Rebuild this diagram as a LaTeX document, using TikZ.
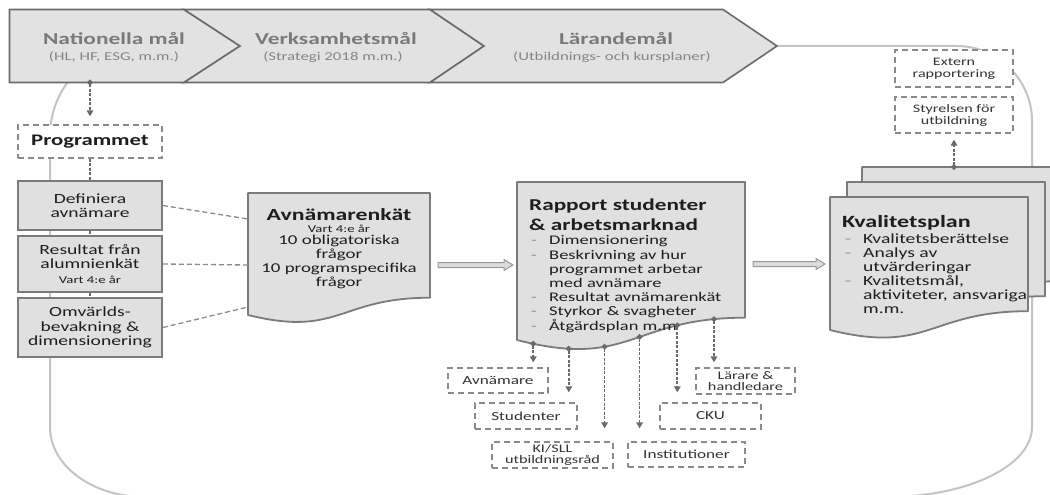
\documentclass[tikz,border=0pt]{standalone}
\usepackage{fontspec}
\setmainfont{Carlito}[FakeStretch=1.4]
\usetikzlibrary{arrows.meta,calc}
\definecolor{boxfill}{HTML}{E0E0E0}
\definecolor{boxdraw}{HTML}{7B7B7B}
\definecolor{chevfill}{HTML}{E2E2E2}
\definecolor{chevdraw}{HTML}{6B6B6B}
\definecolor{loopgray}{HTML}{C4C4C4}
\definecolor{hdrgray}{HTML}{7A7A7A}
\definecolor{subgray}{HTML}{858585}
\definecolor{txt}{HTML}{1E1E1E}
\definecolor{txttwo}{HTML}{333333}
\definecolor{dashgray}{HTML}{8A8A8A}
\definecolor{dotgray}{HTML}{6A6A6A}
\definecolor{arrdraw}{HTML}{9A9A9A}
\definecolor{arrfill}{HTML}{DCDCDC}
\definecolor{bulgray}{HTML}{8C8C8C}
\newcommand{\fs}[2]{\fontsize{#1}{#2}\selectfont}
\newcommand{\bl}{\makebox[18pt][l]{\textcolor{bulgray}{-}}}
\newcommand{\bi}{\hspace*{18pt}}
\tikzset{
  loopline/.style={draw=loopgray, line width=2pt},
  chev/.style={fill=chevfill, draw=chevdraw, line width=1.6pt, line join=miter},
  hdr/.style={font=\bfseries\fs{16.7}{20}, text=hdrgray, inner sep=0pt},
  hsub/.style={font=\fs{12}{14}, text=subgray, inner sep=0pt},
  lbox/.style={draw=boxdraw, fill=boxfill, line width=1.8pt, minimum width=144pt,
    align=center, inner sep=0pt, font=\fs{14}{14.2}, text=txt},
  doc/.style={draw=boxdraw, fill=boxfill, line width=1.8pt, line join=round},
  dbox/.style={draw=dashgray, dash pattern=on 6pt off 4pt, line width=1.3pt, fill=white,
    align=center, inner sep=0pt, font=\fs{12.3}{12.4}, text=txttwo},
  dboxtwo/.style={dbox, font=\fs{11.6}{11.4}},
  dotarrow/.style={draw=dotgray, line width=1.7pt, dash pattern=on 3pt off 1.5pt,
    {Circle[length=5.5pt,width=5.5pt]}-{Triangle[length=6pt,width=6.5pt]}, shorten <=-2.75pt},
  dotline/.style={draw=dotgray, line width=1.7pt, dash pattern=on 3pt off 1.5pt},
  dashline/.style={draw=dashgray, line width=1.3pt, dash pattern=on 5pt off 3pt},
  hollow/.style={draw=arrdraw, fill=arrfill, line width=1pt, line join=miter},
  txtn/.style={inner sep=0pt, text=txt}
}
\begin{document}
\begin{tikzpicture}[x=1pt,y=-1pt]
\useasboundingbox (0,0) rectangle (1050,495);
\fill[white] (0,0) rectangle (1050,495);
\clip (0,0) rectangle (1050,495);

% big loop
\draw[loopline] (777,46) -- (957,46) .. controls (998,46) and (1032,80) .. (1032,121)
  -- (1032,427) .. controls (1032,466) and (967,497) .. (887,497)
  -- (145,497) .. controls (93,497) and (50,466) .. (50,427)
  -- (50,136) .. controls (50,86) and (90,46) .. (140,46) -- cycle;

% chevron band
\draw[chev] (9.5,9.5) -- (184,9.5) -- (240,46) -- (184,82.5) -- (9.5,82.5) -- cycle;
\draw[chev] (184,9.5) -- (430,9.5) -- (484,46) -- (430,82.5) -- (184,82.5) -- (240,46) -- cycle;
\draw[chev] (430,9.5) -- (723,9.5) -- (777,46) -- (723,82.5) -- (430,82.5) -- (484,46) -- cycle;
\node[hdr] (nmT) at (114,39) {Nationella mål};
\node[hsub] (nmS) at (114,57) {(HL, HF, ESG, m.m.)};
\node[hdr] (vmT) at (336,39) {Verksamhetsmål};
\node[hsub] (vmS) at (333,57) {(Strategi 2018 m.m.)};
\node[hdr] (lmT) at (616,39) {Lärandemål};
\node[hsub] (lmS) at (612,57) {(Utbildnings- och kursplaner)};
\coordinate (nmB) at (90,82.5);

% Programmet and left column
\node[dbox, font=\bfseries\fs{16.2}{18}, text=txt, minimum width=144pt, minimum height=33pt] (prog) at (90,141.5) {Programmet};
\node[lbox, minimum height=49pt] (def) at (90,205.5) {Definiera\\avnämare};
\node[lbox, minimum height=56pt] (res) at (90,264) {Resultat från\\alumnienkät\\{\fs{10.5}{12}Vart 4:e år}};
\node[lbox, minimum height=59pt] (omv) at (90,327.5) {Omvärlds-\\bevakning \&\\dimensionering};
\draw[dotarrow, shorten >=8pt] (nmB) -- (prog.north);
\draw[dotline] (prog.south) -- (def.north);
\draw[dotline] (def.south) -- (res.north);
\draw[dotline] (res.south) -- (omv.north);

% Avnämarenkät document
\draw[doc] (248,193) -- (430,193) -- (430,297.7) .. controls (339,297.7) and (339,337.6) .. (248,315) -- cycle;
\coordinate (avL1) at (248,219);
\coordinate (avL2) at (248,265);
\coordinate (avL3) at (248,307);
\coordinate (avE) at (430,265);
\node[txtn, font=\bfseries\fs{17}{20}] (avT) at (339,215) {Avnämarenkät};
\node[txtn, font=\fs{10.5}{12}] (avV) at (339,228.5) {Vart 4:e år};
\node[txtn, font=\fs{13.5}{13.7}, align=center] (avB) at (339,262) {10 obligatoriska\\frågor\\10 programspecifika\\frågor};
\draw[dashline] (def.east) -- (avL1);
\draw[dashline] (res.east) -- (avL2);
\draw[dashline] (omv.east) -- (avL3);

% Rapport document
\draw[doc] (517,182) -- (745,182) -- (745,317.7) .. controls (631,317.7) and (631,369.3) .. (517,340)
  coordinate[pos=0.1] (r6) coordinate[pos=0.25] (r5) coordinate[pos=0.45] (r4)
  coordinate[pos=0.65] (r3) coordinate[pos=0.82] (r2) coordinate[pos=0.95] (r1) -- cycle;
\coordinate (rapW) at (517,265);
\coordinate (rapE) at (745,264);
\node[txtn, font=\bfseries\fs{16.6}{20}, align=left, anchor=west] (rapT) at (529,215) {Rapport studenter\\\& arbetsmarknad};
\node[txtn, font=\fs{13.2}{14.2}, align=left, anchor=west] (rapB) at (531,284) {\bl Dimensionering\\\bl Beskrivning av hur\\\bi programmet arbetar\\\bi med avnämare\\\bl Resultat avnämarenkät\\\bl Styrkor \& svagheter\\\bl Åtgärdsplan m.m};

% hollow arrows
\draw[hollow] ($(avE)+(8,-2.5)$) -- ($(rapW)+(-13,-2.5)$) -- ($(rapW)+(-13,-5.5)$) -- ($(rapW)+(-4,0)$)
  -- ($(rapW)+(-13,5.5)$) -- ($(rapW)+(-13,2.5)$) -- ($(avE)+(8,2.5)$) -- cycle;

% Kvalitetsplan stack
\draw[doc] (862,167) -- (1060,167) -- (1060,281.2) .. controls (961,281.2) and (961,324.6) .. (862,300) -- cycle;
\draw[doc] (847,182) -- (1045,182) -- (1045,296.2) .. controls (946,296.2) and (946,339.6) .. (847,315) -- cycle;
\draw[doc] (830,197) -- (1028,197) -- (1028,311.2) .. controls (929,311.2) and (929,354.6) .. (830,330) -- cycle;
\coordinate (kvW) at (830,264);
\coordinate (kbT) at (954,167);
\node[txtn, font=\bfseries\fs{17.2}{20}, anchor=west] (kvT) at (842,223) {Kvalitetsplan};
\node[txtn, font=\fs{14}{14}, align=left, anchor=west] (kvB) at (845,274) {\bl Kvalitetsberättelse\\\bl Analys av\\\bi utvärderingar\\\bl Kvalitetsmål,\\\bi aktiviteter, ansvariga\\\bi m.m.};

\draw[hollow] ($(rapE)+(8,-2.5)$) -- ($(kvW)+(-14,-2.5)$) -- ($(kvW)+(-14,-5.5)$) -- ($(kvW)+(-5,0)$)
  -- ($(kvW)+(-14,5.5)$) -- ($(kvW)+(-14,2.5)$) -- ($(rapE)+(8,2.5)$) -- cycle;

% top right boxes
\node[dbox, font=\fs{11.5}{12}, minimum width=118pt, minimum height=37pt] (ext) at (954,68.5) {Extern\\rapportering};
\node[dbox, font=\fs{11.5}{12}, minimum width=118pt, minimum height=36pt] (styr) at (954,115) {Styrelsen för\\utbildning};
\draw[dotarrow, shorten >=6pt] (kbT) -- (styr.south);

% bottom boxes
\node[dbox, minimum width=100pt, minimum height=25pt] (avn) at (498,380.5) {Avnämare};
\node[dbox, minimum width=102pt, minimum height=26pt] (stu) at (526,416) {Studenter};
\node[dboxtwo, minimum width=121pt, minimum height=26pt] (ki) at (552.5,455) {KI/SLL\\utbildningsråd};
\node[dbox, minimum width=117pt, minimum height=25pt] (inst) at (686.5,454.5) {Institutioner};
\node[dbox, minimum width=101pt, minimum height=26pt] (cku) at (710.5,416) {CKU};
\node[dboxtwo, minimum width=99pt, minimum height=26pt] (lar) at (745.5,381) {Lärare \&\\handledare};

\draw[dotarrow, shorten >=5pt] (r1) -- (r1 |- avn.north);
\draw[dotarrow, shorten >=10pt] (r2) -- (r2 |- stu.north);
\draw[dotarrow, shorten >=13pt] (r3) -- (r3 |- ki.north);
\draw[dotarrow, shorten >=13pt] (r4) -- (r4 |- inst.north);
\draw[dotarrow, shorten >=10pt] (r5) -- (r5 |- cku.north);
\draw[dotarrow, shorten >=5pt] (r6) -- (r6 |- lar.north);
\end{tikzpicture}
\end{document}
